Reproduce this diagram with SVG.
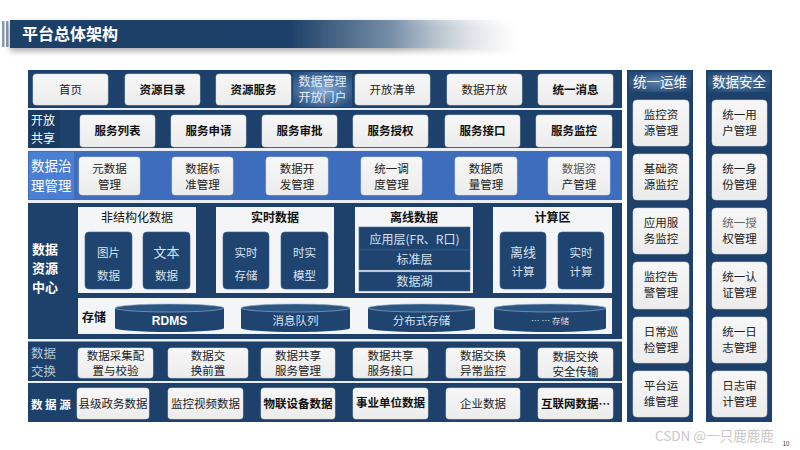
<svg xmlns="http://www.w3.org/2000/svg" width="800" height="450" viewBox="0 0 800 450">
<defs>
<style>
text{font-family:"Noto Sans CJK SC","Noto Sans",sans-serif;text-anchor:middle;}
.box{fill:url(#boxg);stroke:#d9dde3;stroke-width:0.5;}
.t{font-size:11.5px;fill:#222;}
.tb{font-size:11.5px;fill:#111;font-weight:bold;}
.lab{font-size:12.5px;fill:#fff;text-anchor:start;}
.inner{fill:#1f4470;stroke:#3c6391;stroke-width:0.6;}
.it{font-size:11.5px;fill:#d8e2ef;}
.pan{fill:#f4f5f7;}
.ph{font-size:12px;fill:#111;font-weight:bold;}
.sep{fill:#e9eef4;}
.cylb{fill:#1f4470;}
.cylt{fill:#2b5583;stroke:#9fb4cc;stroke-width:0.6;}
.ct{font-size:11.5px;fill:#d8e2ef;}
</style>
<linearGradient id="boxg" x1="0" y1="0" x2="0" y2="1">
<stop offset="0" stop-color="#f7f7f7"/><stop offset="1" stop-color="#ececec"/>
</linearGradient>
<linearGradient id="hdr" x1="0" y1="0" x2="1" y2="0">
<stop offset="0" stop-color="#1c3f66"/><stop offset="0.55" stop-color="#1e4169"/><stop offset="0.75" stop-color="#7890a8"/><stop offset="1" stop-color="#ffffff" stop-opacity="0"/>
</linearGradient>
<radialGradient id="glow" cx="0.5" cy="0.5" r="0.6">
<stop offset="0" stop-color="#8fb0d8"/><stop offset="1" stop-color="#27507e"/>
</radialGradient>
<filter id="sh" x="-5%" y="-30%" width="110%" height="180%"><feDropShadow dx="0" dy="3" stdDeviation="3" flood-color="#000" flood-opacity="0.35"/></filter>
</defs>

<g id="header">
<rect x="2" y="21" width="2.5" height="26" fill="#8a9bb0"/>
<rect x="6" y="21" width="2.5" height="26" fill="#8a9bb0"/>
<rect x="10" y="20" width="510" height="28" fill="url(#hdr)" filter="url(#sh)"/>
<text x="22" y="40" style="font-size:16px;fill:#fff;font-weight:bold;text-anchor:start">平台总体架构</text>
</g>

<g id="main-panel">
<rect x="28" y="70" width="594" height="352" fill="#1d416a"/>
<rect x="28" y="108" width="594" height="2" class="sep"/>
<rect x="28" y="148" width="594" height="3" class="sep"/>
<rect x="28" y="151" width="594" height="49" fill="#3f6dbd"/>
<rect x="28" y="200" width="594" height="3" class="sep"/>
<rect x="28" y="339" width="594" height="2.5" class="sep"/>
<rect x="28" y="381" width="594" height="2" class="sep"/>
</g>

<g id="row-portal">
<g id="n-shouye"><rect x="33" y="74" width="75" height="31" rx="3" class="box"/><text x="70.5" y="94" class="t">首页</text></g>
<g id="n-ziyuanmulu"><rect x="125" y="74" width="75" height="31" rx="3" class="box"/><text x="162.5" y="94" class="tb">资源目录</text></g>
<g id="n-ziyuanfuwu"><rect x="216" y="74" width="75" height="31" rx="3" class="box"/><text x="253.5" y="94" class="tb">资源服务</text></g>
<g id="n-portal"><rect x="293" y="72" width="59" height="35" fill="url(#glow)"/><text x="322.5" y="86" style="font-size:12px;fill:#e4eefa">数据管理</text><text x="322.5" y="102" style="font-size:12px;fill:#e4eefa">开放门户</text></g>
<g id="n-kaifangqingdan"><rect x="355" y="74" width="75" height="31" rx="3" class="box"/><text x="392.5" y="94" class="t">开放清单</text></g>
<g id="n-shujukaifang"><rect x="447" y="74" width="75" height="31" rx="3" class="box"/><text x="484.5" y="94" class="t">数据开放</text></g>
<g id="n-tongyixiaoxi"><rect x="538" y="74" width="75" height="31" rx="3" class="box"/><text x="575.5" y="94" class="tb">统一消息</text></g>
</g>

<g id="row-share">
<g id="l-share"><rect x="29" y="110" width="31" height="38" fill="#1a3a60"/><text x="31" y="125" class="lab" style="font-size:12px">开放</text><text x="31" y="142.5" class="lab" style="font-size:12px">共享</text></g>
<g id="n-fwlb"><rect x="80" y="115" width="75" height="32" rx="3" class="box"/><text x="117.5" y="135" class="tb">服务列表</text></g>
<g id="n-fwsq"><rect x="171" y="115" width="75" height="32" rx="3" class="box"/><text x="208.5" y="135" class="tb">服务申请</text></g>
<g id="n-fwsp"><rect x="262" y="115" width="75" height="32" rx="3" class="box"/><text x="299.5" y="135" class="tb">服务审批</text></g>
<g id="n-fwsq2"><rect x="353" y="115" width="75" height="32" rx="3" class="box"/><text x="390.5" y="135" class="tb">服务授权</text></g>
<g id="n-fwjk"><rect x="445" y="115" width="75" height="32" rx="3" class="box"/><text x="482.5" y="135" class="tb">服务接口</text></g>
<g id="n-fwjk2"><rect x="536" y="115" width="76" height="32" rx="3" class="box"/><text x="574" y="135" class="tb">服务监控</text></g>
</g>

<g id="row-governance">
<g id="l-gov"><rect x="29" y="152" width="45" height="47" fill="#4a7fd4"/><text x="31" y="171" class="lab" style="font-size:13.5px">数据治</text><text x="31" y="191" class="lab" style="font-size:13.5px">理管理</text></g>
<g id="n-ysj"><rect x="79" y="157" width="61" height="38" rx="3" class="box"/><text x="109.5" y="173" class="t">元数据</text><text x="109.5" y="189" class="t">管理</text></g>
<g id="n-sjbz"><rect x="172" y="157" width="61" height="38" rx="3" class="box"/><text x="202.5" y="173" class="t">数据标</text><text x="202.5" y="189" class="t">准管理</text></g>
<g id="n-sjkf"><rect x="266" y="157" width="62" height="38" rx="3" class="box"/><text x="297" y="173" class="t">数据开</text><text x="297" y="189" class="t">发管理</text></g>
<g id="n-tydd"><rect x="361" y="157" width="61" height="38" rx="3" class="box"/><text x="391.5" y="173" class="t">统一调</text><text x="391.5" y="189" class="t">度管理</text></g>
<g id="n-sjzl"><rect x="455" y="157" width="62" height="38" rx="3" class="box"/><text x="486" y="173" class="t">数据质</text><text x="486" y="189" class="t">量管理</text></g>
<g id="n-sjzc"><rect x="548" y="157" width="62" height="38" rx="3" class="box"/><text x="579" y="173" class="t" style="fill:#555">数据资</text><text x="579" y="189" class="t">产管理</text></g>
</g>

<g id="row-resource">
<g id="l-res"><text x="32" y="254" class="lab" style="font-weight:bold;font-size:13px">数据</text><text x="32" y="273" class="lab" style="font-weight:bold;font-size:13px">资源</text><text x="32" y="292" class="lab" style="font-weight:bold;font-size:13px">中心</text></g>
<g id="n-fjgh">
<rect x="78" y="207" width="118" height="86" class="pan"/>
<text x="137" y="222" class="ph" style="font-weight:normal">非结构化数据</text>
<rect x="85" y="232" width="47" height="57" rx="4" class="inner"/><text x="108.5" y="257" class="it">图片</text><text x="108.5" y="280" class="it">数据</text>
<rect x="143" y="232" width="47" height="57" rx="4" class="inner"/><text x="166.5" y="257" class="it" style="font-size:13px">文本</text><text x="166.5" y="280" class="it">数据</text>
</g>
<g id="n-ssj">
<rect x="216" y="207" width="118" height="86" class="pan"/>
<text x="275" y="222" class="ph">实时数据</text>
<rect x="223" y="232" width="46" height="57" rx="4" class="inner"/><text x="246" y="257" class="it">实时</text><text x="246" y="280" class="it">存储</text>
<rect x="281" y="232" width="47" height="57" rx="4" class="inner"/><text x="304.5" y="257" class="it">时实</text><text x="304.5" y="280" class="it">模型</text>
</g>
<g id="n-lxsj">
<rect x="355" y="207" width="118" height="86" class="pan"/>
<text x="414" y="222" class="ph">离线数据</text>
<rect x="359" y="227" width="111" height="23" class="inner"/><text x="414.5" y="244" class="it" style="font-size:12px">应用层(FR、R口)</text>
<rect x="359" y="250" width="111" height="20" class="inner"/><text x="414.5" y="264" class="it" style="font-size:12px">标准层</text>
<rect x="359" y="272" width="111" height="19" class="inner"/><text x="414.5" y="286" class="it" style="font-size:12px">数据湖</text>
</g>
<g id="n-jsq">
<rect x="493" y="207" width="119" height="86" class="pan"/>
<text x="552.5" y="222" class="ph">计算区</text>
<rect x="500" y="232" width="46" height="57" rx="4" class="inner"/><text x="523" y="257" class="it" style="font-size:13px">离线</text><text x="523" y="276" class="it">计算</text>
<rect x="558" y="232" width="46" height="57" rx="4" class="inner"/><text x="581" y="257" class="it">实时</text><text x="581" y="276" class="it">计算</text>
</g>
<g id="n-storage">
<rect x="78" y="298" width="534" height="36" class="pan"/>
<text x="82" y="322" class="ph" style="text-anchor:start">存储</text>
<g id="cyl-rdms"><path d="M115,308 L115,328 A54.5,4 0 0 0 224,328 L224,308 Z" class="cylb"/><ellipse cx="169.5" cy="308" rx="54.5" ry="4" class="cylt"/><text x="169.5" y="325" class="ct" style="font-weight:bold;fill:#fff;font-family:'Liberation Sans',sans-serif;font-size:12px">RDMS</text></g>
<g id="cyl-mq"><path d="M241,308 L241,328 A54.5,4 0 0 0 350,328 L350,308 Z" class="cylb"/><ellipse cx="295.5" cy="308" rx="54.5" ry="4" class="cylt"/><text x="295.5" y="325" class="ct">消息队列</text></g>
<g id="cyl-dfs"><path d="M368,308 L368,328 A53.5,4 0 0 0 475,328 L475,308 Z" class="cylb"/><ellipse cx="421.5" cy="308" rx="53.5" ry="4" class="cylt"/><text x="421.5" y="325" class="ct">分布式存储</text></g>
<g id="cyl-etc"><path d="M494,308 L494,328 A56,4 0 0 0 606,328 L606,308 Z" class="cylb"/><ellipse cx="550" cy="308" rx="56" ry="4" class="cylt"/><text x="550" y="324" class="ct" style="font-size:8.5px">… … 存储</text></g>
</g>
</g>

<g id="row-exchange">
<g id="l-ex"><text x="31" y="358" class="lab" style="fill:#b8c8dc">数据</text><text x="31" y="376" class="lab" style="fill:#b8c8dc">交换</text></g>
<g id="n-cjpz"><rect x="78" y="348" width="75" height="30" rx="3" class="box"/><text x="115.5" y="360" class="t">数据采集配</text><text x="115.5" y="375" class="t">置与校验</text></g>
<g id="n-jhqz"><rect x="168" y="348" width="80" height="30" rx="3" class="box"/><text x="208" y="360" class="t">数据交</text><text x="208" y="375" class="t">换前置</text></g>
<g id="n-gxfw"><rect x="261" y="348" width="74" height="30" rx="3" class="box"/><text x="298" y="360" class="t">数据共享</text><text x="298" y="375" class="t">服务管理</text></g>
<g id="n-gxjk"><rect x="353" y="348" width="75" height="30" rx="3" class="box"/><text x="390.5" y="360" class="t">数据共享</text><text x="390.5" y="375" class="t">服务接口</text></g>
<g id="n-ycjk"><rect x="446" y="348" width="74" height="30" rx="3" class="box"/><text x="483" y="360" class="t">数据交换</text><text x="483" y="375" class="t">异常监控</text></g>
<g id="n-aqcs"><rect x="538" y="348" width="75" height="30" rx="3" class="box"/><text x="575.5" y="361" class="t">数据交换</text><text x="575.5" y="376" class="t">安全传输</text></g>
</g>

<g id="row-source">
<g id="l-src"><text x="31" y="409" class="lab" style="font-size:11.5px;font-weight:bold">数 据 源</text></g>
<g id="n-xjzw"><rect x="77" y="388" width="72" height="31" rx="3" class="box"/><text x="113" y="408" class="t">县级政务数据</text></g>
<g id="n-jksp"><rect x="168" y="388" width="75" height="31" rx="3" class="box"/><text x="205.5" y="408" class="t">监控视频数据</text></g>
<g id="n-wlsb"><rect x="261" y="388" width="74" height="31" rx="3" class="box"/><text x="298" y="408" class="tb">物联设备数据</text></g>
<g id="n-sydw"><rect x="353" y="388" width="75" height="31" rx="3" class="box"/><text x="390.5" y="407" class="tb">事业单位数据</text></g>
<g id="n-qy"><rect x="446" y="388" width="74" height="31" rx="3" class="box"/><text x="483" y="408" class="t">企业数据</text></g>
<g id="n-hlw"><rect x="538" y="388" width="75" height="31" rx="3" class="box"/><text x="575.5" y="408" class="tb">互联网数据…</text></g>
</g>

<g id="col-ops">
<rect x="627" y="70" width="66" height="352" fill="#1d416a"/>
<rect x="629" y="72" width="62" height="20" fill="url(#glow)" opacity="0.6"/>
<text x="660" y="87" style="font-size:13.5px;fill:#fff">统一运维</text>
<g id="n-jkzy"><rect x="633" y="100" width="56" height="46" rx="4" class="box"/><text x="661" y="119" class="t">监控资</text><text x="661" y="135" class="t">源管理</text></g>
<g id="n-jczy"><rect x="633" y="154" width="56" height="46" rx="4" class="box"/><text x="661" y="173" class="t">基础资</text><text x="661" y="189" class="t">源监控</text></g>
<g id="n-yyfw"><rect x="633" y="208" width="56" height="46" rx="4" class="box"/><text x="661" y="227" class="t">应用服</text><text x="661" y="243" class="t">务监控</text></g>
<g id="n-jkgj"><rect x="633" y="262" width="56" height="47" rx="4" class="box"/><text x="661" y="281" class="t">监控告</text><text x="661" y="297" class="t">警管理</text></g>
<g id="n-rcxj"><rect x="633" y="317" width="56" height="46" rx="4" class="box"/><text x="661" y="336" class="t">日常巡</text><text x="661" y="352" class="t">检管理</text></g>
<g id="n-ptyw"><rect x="633" y="371" width="56" height="46" rx="4" class="box"/><text x="661" y="390" class="t">平台运</text><text x="661" y="406" class="t">维管理</text></g>
</g>

<g id="col-security">
<rect x="706" y="70" width="66" height="352" fill="#1d416a"/>
<rect x="708" y="72" width="62" height="20" fill="url(#glow)" opacity="0.6"/>
<text x="739" y="87" style="font-size:13.5px;fill:#fff">数据安全</text>
<g id="n-tyyh"><rect x="712" y="100" width="55" height="46" rx="4" class="box"/><text x="739.5" y="119" class="t">统一用</text><text x="739.5" y="135" class="t">户管理</text></g>
<g id="n-tysf"><rect x="712" y="154" width="55" height="46" rx="4" class="box"/><text x="739.5" y="173" class="t">统一身</text><text x="739.5" y="189" class="t">份管理</text></g>
<g id="n-tysq"><rect x="712" y="208" width="55" height="46" rx="4" class="box"/><text x="739.5" y="227" class="t" style="fill:#666">统一授</text><text x="739.5" y="243" class="t">权管理</text></g>
<g id="n-tyrz"><rect x="712" y="262" width="55" height="47" rx="4" class="box"/><text x="739.5" y="281" class="t">统一认</text><text x="739.5" y="297" class="t">证管理</text></g>
<g id="n-tyrz2"><rect x="712" y="317" width="55" height="46" rx="4" class="box"/><text x="739.5" y="336" class="t">统一日</text><text x="739.5" y="352" class="t">志管理</text></g>
<g id="n-rzsj"><rect x="712" y="371" width="55" height="46" rx="4" class="box"/><text x="739.5" y="390" class="t">日志审</text><text x="739.5" y="406" class="t">计管理</text></g>
</g>

<g id="connectors"></g>

<g id="watermark">
<text x="655" y="441" style="font-size:13.5px;fill:#c8c8c8;text-anchor:start">CSDN @一只鹿鹿鹿</text>
<text x="786" y="446" style="font-size:6px;fill:#333">10</text>
</g>
</svg>
